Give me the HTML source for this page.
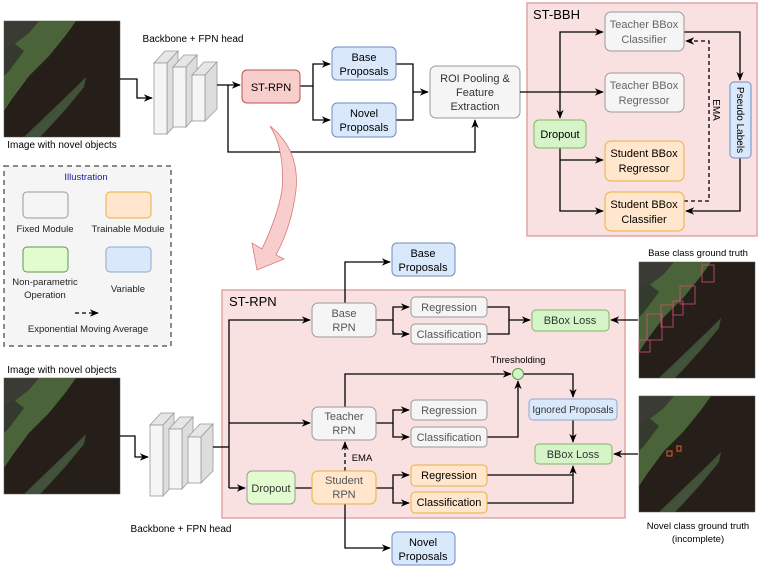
<!DOCTYPE html>
<html><head><meta charset="utf-8"><style>
html,body{margin:0;padding:0;background:#fff;}
svg{display:block;font-family:"Liberation Sans",Arial,sans-serif;}
</style></head><body>
<svg width="764" height="567" viewBox="0 0 764 567" xmlns="http://www.w3.org/2000/svg">
<defs>
<marker id="a" viewBox="0 0 10 10" refX="9" refY="5" markerWidth="7" markerHeight="7" orient="auto-start-reverse"><path d="M0,1 L10,5 L0,9 L3,5 Z" fill="#000"/></marker>
<g id="img">
<rect x="0" y="0" width="116" height="116" fill="#261e19"/>
<path d="M0,0 L72,0 L62,14 L45,35 L25,55 L8,78 L0,90 Z" fill="#4a6338"/>
<path d="M0,0 L35,0 L25,12 L8,25 L0,28 Z" fill="#3b3b35"/>
<path d="M0,28 L10,22 L20,30 L5,50 L0,55 Z" fill="#353a2e"/>
<path d="M20,116 L45,92 L70,68 L82,56 L80,66 L62,88 L42,110 L36,116 Z" fill="#3f5137"/>
<path d="M25,116 L50,92 L72,70 L78,64 L60,86 L40,110 Z" fill="#4a5244" opacity="0.6"/>
<rect x="0" y="0" width="116" height="116" fill="none" stroke="#555" stroke-width="0.5"/>
</g>
<g id="bb">
<path d="M0,12 L11,0 L24,0 L13,12 Z" fill="#e6e6e6" stroke="#999" stroke-width="0.8"/>
<path d="M13,12 L24,0 L24,71 L13,83 Z" fill="#ddd" stroke="#999" stroke-width="0.8"/>
<rect x="0" y="12" width="13" height="71" fill="#f5f5f5" stroke="#999" stroke-width="0.8"/>
<path d="M19,16 L30,4 L43,4 L32,16 Z" fill="#e6e6e6" stroke="#999" stroke-width="0.8"/>
<path d="M32,16 L43,4 L43,64 L32,76 Z" fill="#ddd" stroke="#999" stroke-width="0.8"/>
<rect x="19" y="16" width="13" height="60" fill="#f5f5f5" stroke="#999" stroke-width="0.8"/>
<path d="M38,24 L50,11 L63,11 L51,24 Z" fill="#e6e6e6" stroke="#999" stroke-width="0.8"/>
<path d="M51,24 L63,11 L63,58 L51,70 Z" fill="#ddd" stroke="#999" stroke-width="0.8"/>
<rect x="38" y="24" width="13" height="46" fill="#f5f5f5" stroke="#999" stroke-width="0.8"/>
</g>
</defs>

<use href="#img" x="4" y="21"/>
<text x="62" y="148" font-size="10" text-anchor="middle">Image with novel objects</text>
<text x="193" y="42" font-size="10" text-anchor="middle">Backbone + FPN head</text>
<use href="#bb" x="154" y="51"/>
<g fill="none" stroke="#000" stroke-width="1.3">
<path d="M120,79 H137 V98 H152" marker-end="url(#a)"/>
<path d="M217,85 H240" marker-end="url(#a)"/>
<path d="M228,85 V152 H475 V120" marker-end="url(#a)"/>
<path d="M300,86 H313 V64 H330" marker-end="url(#a)"/>
<path d="M313,86 V120 H330" marker-end="url(#a)"/>
<path d="M396,64 H413 V120 H396"/>
<path d="M413,92 H428" marker-end="url(#a)"/>
</g>
<g font-size="11" text-anchor="middle">
<rect x="242" y="70" width="58" height="33" rx="5" fill="#f8cecc" stroke="#b85450"/>
<text x="271" y="91">ST-RPN</text>
<rect x="332" y="47" width="64" height="33" rx="5" fill="#dae8fc" stroke="#6c8ebf"/>
<text x="364" y="61">Base</text><text x="364" y="75">Proposals</text>
<rect x="332" y="103" width="64" height="34" rx="5" fill="#dae8fc" stroke="#6c8ebf"/>
<text x="364" y="117">Novel</text><text x="364" y="131">Proposals</text>
<rect x="430" y="66" width="90" height="52" rx="6" fill="#f5f5f5" stroke="#999"/>
<text x="475" y="82" fill="#333">ROI Pooling &amp;</text><text x="475" y="96" fill="#333">Feature</text><text x="475" y="110" fill="#333">Extraction</text>
</g>

<path d="M270,126 Q300,150 296,190 Q292,225 276,255 L284,259 L257,270 L252,243 L262,249 Q278,215 282,190 Q285,150 270,126 Z" fill="#f8cecc" stroke="#d77a78" stroke-width="0.8"/>

<rect x="527" y="3" width="230" height="233" fill="#fae1e1" stroke="#e0a6a6" stroke-width="1.5"/>
<text x="533" y="19" font-size="13">ST-BBH</text>
<g fill="none" stroke="#000" stroke-width="1.3">
<path d="M520,92 H603" marker-end="url(#a)"/>
<path d="M560,92 V32 H603" marker-end="url(#a)"/>
<path d="M560,92 V118" marker-end="url(#a)"/>
<path d="M560,148 V211 H603" marker-end="url(#a)"/>
<path d="M560,160 H603" marker-end="url(#a)"/>
<path d="M684,32 H740 V80" marker-end="url(#a)"/>
<path d="M740,158 V211 H686" marker-end="url(#a)"/>
<path d="M684,201 H709 V41 H686" stroke-dasharray="4,3" marker-end="url(#a)"/>
</g>
<g font-size="11" text-anchor="middle">
<rect x="605" y="12" width="79" height="39" rx="6" fill="#f5f5f5" stroke="#999"/>
<text x="644" y="28" fill="#666">Teacher BBox</text><text x="644" y="43" fill="#666">Classifier</text>
<rect x="605" y="73" width="79" height="39" rx="6" fill="#f5f5f5" stroke="#999"/>
<text x="644" y="89" fill="#666">Teacher BBox</text><text x="644" y="104" fill="#666">Regressor</text>
<rect x="534" y="120" width="52" height="28" rx="5" fill="#d5f5c8" stroke="#82b366"/>
<text x="560" y="138">Dropout</text>
<rect x="605" y="141" width="79" height="40" rx="6" fill="#ffe6cc" stroke="#e8b040"/>
<text x="644" y="157">Student BBox</text><text x="644" y="172">Regressor</text>
<rect x="605" y="192" width="79" height="39" rx="6" fill="#ffe6cc" stroke="#e8b040"/>
<text x="644" y="208">Student BBox</text><text x="644" y="223">Classifier</text>
<rect x="730" y="82" width="21" height="76" rx="4" fill="#dae8fc" stroke="#6c8ebf"/>
<text transform="translate(737,120) rotate(90)" font-size="10">Pseudo Labels</text>
<text transform="translate(713,110) rotate(90)" font-size="10">EMA</text>
</g>

<rect x="4" y="166" width="167" height="180" fill="#f5f5f5" stroke="#666" stroke-width="1.5" stroke-dasharray="5,4"/>
<g font-size="9.5" text-anchor="middle" fill="#222">
<text x="86" y="180" fill="#1a1aa6">Illustration</text>
<rect x="23" y="192" width="45" height="26" rx="4" fill="#f5f5f5" stroke="#999"/>
<rect x="106" y="192" width="45" height="26" rx="4" fill="#ffe6cc" stroke="#e8b040"/>
<text x="45" y="232">Fixed Module</text><text x="128" y="232">Trainable Module</text>
<rect x="23" y="247" width="45" height="25" rx="4" fill="#e3fccf" stroke="#5a9a4a"/>
<rect x="106" y="247" width="45" height="25" rx="4" fill="#dae8fc" stroke="#8fa8cf"/>
<text x="45" y="285">Non-parametric</text><text x="45" y="298">Operation</text>
<text x="128" y="292">Variable</text>
<text x="88" y="332">Exponential Moving Average</text>
</g>
<path d="M75,313 H98" stroke="#000" stroke-width="1.3" stroke-dasharray="4,3" fill="none" marker-end="url(#a)"/>

<text x="62" y="373" font-size="10" text-anchor="middle">Image with novel objects</text>
<use href="#img" x="4" y="378"/>
<use href="#bb" x="150" y="413"/>
<text x="181" y="532" font-size="10" text-anchor="middle">Backbone + FPN head</text>

<rect x="222" y="290" width="403" height="228" fill="#fae1e1" stroke="#e0a6a6" stroke-width="1.5"/>
<text x="229" y="306" font-size="13">ST-RPN</text>
<g fill="none" stroke="#000" stroke-width="1.3">
<path d="M120,436 H135 V457 H148" marker-end="url(#a)"/>
<path d="M213,447 H229"/>
<path d="M229,488 V320 H310" marker-end="url(#a)"/>
<path d="M229,423 H310" marker-end="url(#a)"/>
<path d="M229,488 H245" marker-end="url(#a)"/>
<path d="M345,303 V262 H390" marker-end="url(#a)"/>
<path d="M376,320 H393 V307 H409" marker-end="url(#a)"/>
<path d="M393,320 V334 H409" marker-end="url(#a)"/>
<path d="M487,307 H509 V334 H487"/>
<path d="M509,320 H530" marker-end="url(#a)"/>
<path d="M638,320 H611" marker-end="url(#a)"/>
<path d="M345,407 V374 H511" marker-end="url(#a)"/>
<path d="M376,423 H393 V410 H409" marker-end="url(#a)"/>
<path d="M393,423 V437 H409" marker-end="url(#a)"/>
<path d="M487,437 H518 V381" marker-end="url(#a)"/>
<path d="M523,374 H573 V397" marker-end="url(#a)"/>
<path d="M573,420 V442" marker-end="url(#a)"/>
<path d="M638,454 H614" marker-end="url(#a)"/>
<path d="M345,471 V442" stroke-dasharray="4,3" marker-end="url(#a)"/>
<path d="M295,488 H312"/>
<path d="M376,488 H393 V475 H409" marker-end="url(#a)"/>
<path d="M393,488 V503 H409" marker-end="url(#a)"/>
<path d="M487,475 H573"/>
<path d="M487,503 H573 V466" marker-end="url(#a)"/>
<path d="M345,504 V548 H390" marker-end="url(#a)"/>
</g>
<circle cx="518" cy="374" r="5.5" fill="#d5f5c8" stroke="#5a9a4a"/>
<g font-size="11" text-anchor="middle">
<text x="518" y="363" font-size="9.5">Thresholding</text>
<text x="362" y="461" font-size="9.5">EMA</text>
<rect x="312" y="303" width="64" height="34" rx="6" fill="#f5f5f5" stroke="#999"/>
<text x="344" y="317" fill="#555">Base</text><text x="344" y="331" fill="#555">RPN</text>
<rect x="392" y="243" width="63" height="33" rx="5" fill="#dae8fc" stroke="#6c8ebf"/>
<text x="423" y="257">Base</text><text x="423" y="271">Proposals</text>
<rect x="411" y="297" width="76" height="20" rx="4" fill="#f5f5f5" stroke="#999"/>
<text x="449" y="311" fill="#555">Regression</text>
<rect x="411" y="324" width="76" height="20" rx="4" fill="#f5f5f5" stroke="#999"/>
<text x="449" y="338" fill="#555">Classification</text>
<rect x="532" y="310" width="77" height="21" rx="4" fill="#d5f5c8" stroke="#82b366"/>
<text x="570" y="324" fill="#333">BBox Loss</text>
<rect x="312" y="407" width="64" height="33" rx="6" fill="#f5f5f5" stroke="#999"/>
<text x="344" y="420" fill="#555">Teacher</text><text x="344" y="434" fill="#555">RPN</text>
<rect x="411" y="400" width="76" height="20" rx="4" fill="#f5f5f5" stroke="#999"/>
<text x="449" y="414" fill="#555">Regression</text>
<rect x="411" y="427" width="76" height="20" rx="4" fill="#f5f5f5" stroke="#999"/>
<text x="449" y="441" fill="#555">Classification</text>
<rect x="529" y="399" width="88" height="21" rx="4" fill="#dae8fc" stroke="#8fa8cf"/>
<text x="573" y="413" font-size="10" fill="#333">Ignored Proposals</text>
<rect x="535" y="444" width="77" height="20" rx="4" fill="#d5f5c8" stroke="#82b366"/>
<text x="573" y="458" fill="#333">BBox Loss</text>
<rect x="247" y="471" width="48" height="33" rx="5" fill="#e3fccf" stroke="#999"/>
<text x="271" y="492" fill="#333">Dropout</text>
<rect x="312" y="471" width="64" height="33" rx="6" fill="#ffe6cc" stroke="#e8b040"/>
<text x="344" y="484" fill="#555">Student</text><text x="344" y="498" fill="#555">RPN</text>
<rect x="411" y="465" width="76" height="21" rx="4" fill="#ffe6cc" stroke="#e8b040"/>
<text x="449" y="479">Regression</text>
<rect x="411" y="492" width="76" height="21" rx="4" fill="#ffe6cc" stroke="#e8b040"/>
<text x="449" y="506">Classification</text>
<rect x="392" y="532" width="63" height="33" rx="5" fill="#dae8fc" stroke="#6c8ebf"/>
<text x="423" y="546">Novel</text><text x="423" y="560">Proposals</text>
</g>

<text x="698" y="256" font-size="9.5" text-anchor="middle">Base class ground truth</text>
<use href="#img" x="639" y="262"/>
<g fill="none" stroke="#d05070" stroke-width="0.8">
<rect x="702" y="265" width="12" height="17"/><rect x="680" y="286" width="15" height="18"/><rect x="673" y="301" width="10" height="14"/>
<rect x="661" y="305" width="12" height="22"/><rect x="647" y="314" width="15" height="26"/><rect x="639" y="340" width="11" height="12"/>
</g>
<use href="#img" x="639" y="396"/>
<rect x="677" y="446" width="4" height="5" fill="none" stroke="#e06030"/><rect x="667" y="451" width="5" height="5" fill="none" stroke="#e06030"/>
<text x="698" y="529" font-size="9.5" text-anchor="middle">Novel class ground truth</text>
<text x="698" y="542" font-size="9.5" text-anchor="middle">(incomplete)</text>
</svg>
</body></html>
